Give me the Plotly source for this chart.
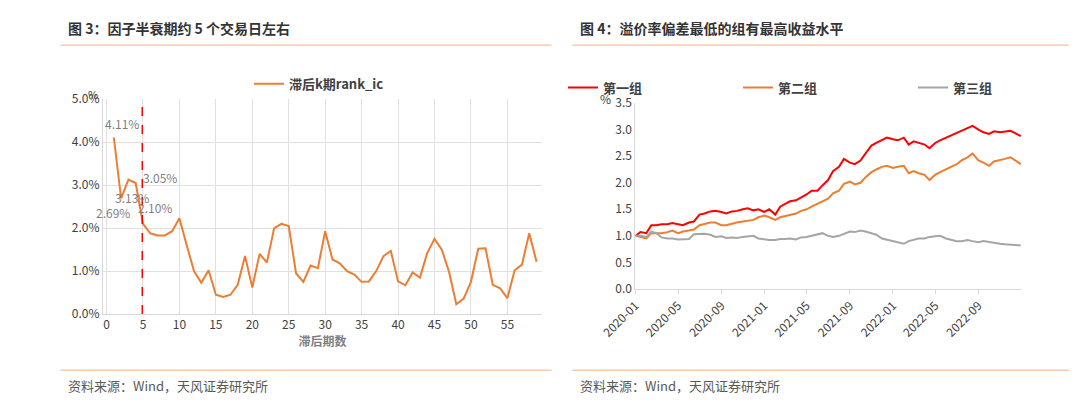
import plotly.graph_objects as go
import pandas as pd

# left chart: rank ic by lag
lags = list(range(1, 60))
rank_ic = [4.11, 2.69, 3.13, 3.05, 2.10, 1.88, 1.83, 1.83, 1.93, 2.23, 1.6, 1.0, 0.73, 1.02, 0.45,
           0.4, 0.45, 0.68, 1.35, 0.62, 1.4, 1.2, 2.0, 2.1, 2.05, 0.95, 0.75, 1.13, 1.07, 1.93,
           1.27, 1.18, 1.0, 0.92, 0.75, 0.76, 1.0, 1.35, 1.47, 0.76, 0.67, 0.97, 0.85, 1.42, 1.75,
           1.5, 0.98, 0.23, 0.36, 0.75, 1.52, 1.53, 0.68, 0.6, 0.37, 1.02, 1.15, 1.88, 1.22]
# label pixel offsets for the first five points
label_shift = [(8, 14), (-8, -14), (4, -18), (24, 6), (12, 16)]

# right chart: group net value, semi-monthly readings
dates = []
for y in (2020, 2021, 2022):
    for m in range(1, 13):
        dates += [f"{y}-{m:02d}-01", f"{y}-{m:02d}-15"]
dates[-1] = "2022-12-30"
g1 = [1.0, 1.07, 1.05, 1.2, 1.2, 1.22, 1.22, 1.24, 1.22, 1.2, 1.25, 1.27, 1.4, 1.42, 1.46, 1.47,
      1.45, 1.42, 1.46, 1.47, 1.5, 1.52, 1.48, 1.5,
      1.45, 1.5, 1.4, 1.55, 1.6, 1.65, 1.67, 1.72, 1.78, 1.85, 1.85, 1.95, 2.05, 2.22, 2.3, 2.45,
      2.38, 2.35, 2.42, 2.55, 2.7, 2.75, 2.8, 2.85,
      2.82, 2.8, 2.85, 2.72, 2.78, 2.75, 2.72, 2.65, 2.75, 2.8, 2.85, 2.88, 2.93, 2.98, 3.02, 3.07,
      3.0, 2.95, 2.92, 2.97, 2.95, 2.97, 2.98, 2.88]
g2 = [1.0, 0.98, 0.95, 1.05, 1.05, 1.05, 1.07, 1.1, 1.05, 1.08, 1.1, 1.12, 1.2, 1.22, 1.25, 1.25,
      1.2, 1.2, 1.23, 1.25, 1.27, 1.28, 1.3, 1.35,
      1.38, 1.35, 1.3, 1.35, 1.37, 1.4, 1.42, 1.47, 1.5, 1.55, 1.6, 1.65, 1.7, 1.8, 1.85, 1.98,
      2.02, 1.97, 2.0, 2.1, 2.2, 2.25, 2.3, 2.32,
      2.28, 2.3, 2.32, 2.18, 2.22, 2.18, 2.15, 2.05, 2.15, 2.2, 2.25, 2.3, 2.35, 2.42, 2.48, 2.55,
      2.42, 2.38, 2.32, 2.4, 2.42, 2.45, 2.48, 2.35]
g3 = [1.0, 1.0, 0.98, 1.08, 1.05, 0.97, 0.95, 0.95, 0.93, 0.94, 0.94, 1.03, 1.03, 1.04, 1.02, 0.98,
      0.99, 0.96, 0.97, 0.96, 0.98, 0.99, 1.0, 0.95,
      0.93, 0.92, 0.92, 0.94, 0.94, 0.95, 0.93, 0.97, 0.98, 1.0, 1.02, 1.05, 1.0, 0.98, 1.0, 1.03,
      1.08, 1.07, 1.1, 1.08, 1.05, 1.02, 0.95, 0.93,
      0.9, 0.88, 0.85, 0.9, 0.92, 0.95, 0.95, 0.98, 0.99, 1.0, 0.95, 0.92, 0.9, 0.9, 0.92, 0.9,
      0.88, 0.9, 0.88, 0.86, 0.85, 0.84, 0.83, 0.82]

FONT = "Noto Sans CJK SC"
fig = go.Figure()
fig.add_trace(go.Scatter(x=lags, y=rank_ic, mode="lines", name="<b>滞后k期rank_ic</b>",
                         line=dict(color="#ED7D31", width=2), xaxis="x", yaxis="y", legend="legend"))
fig.add_trace(go.Scatter(x=[4.9, 4.9], y=[0, 4.95], mode="lines", showlegend=False,
                         line=dict(color="#FF0000", width=1.5, dash="dash"), xaxis="x", yaxis="y"))
for xv, yv, (dx, dy) in zip(lags[:5], rank_ic[:5], label_shift):
    fig.add_annotation(x=xv, y=yv, xref="x", yref="y", text=f"{yv:.2f}%", showarrow=False,
                       xshift=dx, yshift=dy, font=dict(size=12, color="#7F7F7F"))
for name, vals, col in [("第一组", g1, "#FF0000"), ("第二组", g2, "#ED7D31"), ("第三组", g3, "#A5A5A5")]:
    fig.add_trace(go.Scatter(x=pd.to_datetime(dates), y=vals, mode="lines", name=f"<b>{name}</b>",
                             line=dict(color=col, width=2), xaxis="x2", yaxis="y2", legend="legend2"))

ax = dict(showline=True, linecolor="#D9D9D9", ticks="", tickfont=dict(size=12, color="#404040"))
fig.update_layout(
    width=1080, height=404, margin=dict(l=0, r=0, t=0, b=0),
    paper_bgcolor="white", plot_bgcolor="white", font=dict(family=FONT, color="#404040"),
    xaxis=dict(ax, domain=[0.056, 0.481], range=[-0.5, 59.8], dtick=5, tick0=0,
               showgrid=True, gridcolor="#E0E0E0", zeroline=False,
               title=dict(text="<b>滞后期数</b>", font=dict(size=12, color="#7F7F7F"), standoff=4)),
    yaxis=dict(ax, domain=[0.235, 0.79], range=[0, 5.0], dtick=1, ticksuffix="%",
               tickformat=".1f", showgrid=True, gridcolor="#E0E0E0", zeroline=False),
    xaxis2=dict(ax, domain=[0.571, 0.944], anchor="y2", range=["2020-01-01", "2022-12-31"],
                dtick="M4", tick0="2020-01-01", tickformat="%Y-%m", tickangle=-45,
                showgrid=False, ticks="outside", ticklen=4, tickcolor="#D9D9D9"),
    yaxis2=dict(ax, domain=[0.3, 0.78], anchor="x2", range=[0, 3.5], dtick=0.5,
                tickformat=".1f", showgrid=False, zeroline=False),
    legend=dict(orientation="h", x=0.265, y=0.83, xanchor="center", yanchor="middle",
                font=dict(size=13, color="#404040"), bgcolor="rgba(0,0,0,0)"),
    legend2=dict(orientation="h", x=0.755, y=0.82, xanchor="center", yanchor="middle",
                 font=dict(size=13, color="#404040"), entrywidth=130, bgcolor="rgba(0,0,0,0)"),
    showlegend=True,
)
fig.add_annotation(text="<b>图 3：因子半衰期约 5 个交易日左右</b>", x=0.02, y=0.975, xref="paper",
                   yref="paper", xanchor="left", yanchor="middle", showarrow=False,
                   font=dict(size=14, color="#333333"))
fig.add_annotation(text="<b>图 4：溢价率偏差最低的组有最高收益水平</b>", x=0.515, y=0.975, xref="paper",
                   yref="paper", xanchor="left", yanchor="middle", showarrow=False,
                   font=dict(size=14, color="#333333"))
for x0 in (0.02, 0.515):
    fig.add_annotation(text="资料来源：Wind，天风证券研究所", x=x0, y=0.05, xref="paper", yref="paper",
                       xanchor="left", yanchor="middle", showarrow=False,
                       font=dict(size=13, color="#595959"))
fig.add_annotation(text="%", x=0.04, y=0.83, xref="paper", yref="paper", showarrow=False,
                   font=dict(size=11, color="#404040"))
fig.add_annotation(text="%", x=0.542, y=0.82, xref="paper", yref="paper", showarrow=False,
                   font=dict(size=12, color="#404040"))
for x0, x1 in ((0.015, 0.49), (0.51, 0.99)):
    for yy in (0.93, 0.09):
        fig.add_shape(type="line", xref="paper", yref="paper", x0=x0, x1=x1, y0=yy, y1=yy,
                      line=dict(color="#F4B183", width=1))
fig.write_html("out.html")
